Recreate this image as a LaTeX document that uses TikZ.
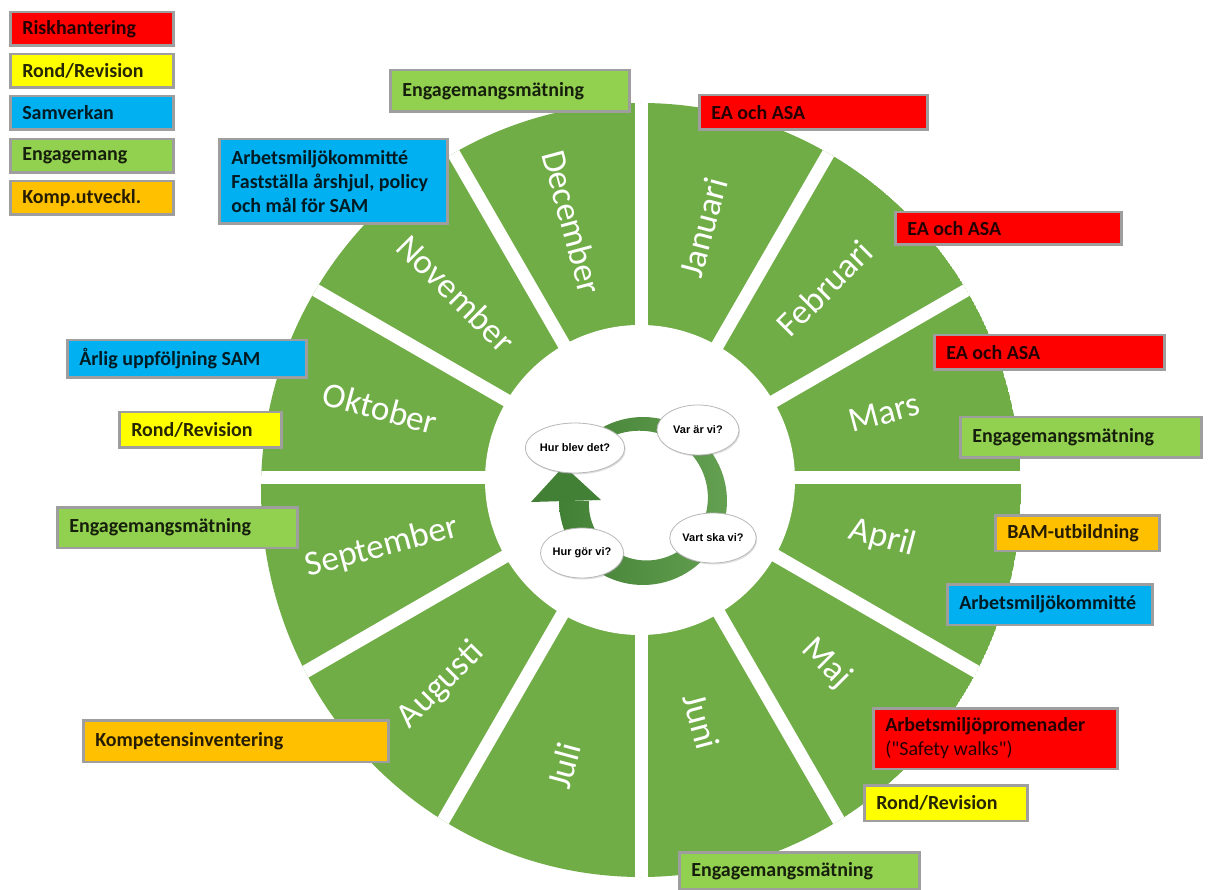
\documentclass[tikz,border=0pt]{standalone}
\usepackage{fontspec}
\setmainfont{Carlito}
\newfontfamily\cyclefont{Liberation Sans}
\usetikzlibrary{calc,shapes.geometric,shadows}

\definecolor{wheelgreen}{RGB}{112,173,71}
\definecolor{ringdark}{RGB}{66,128,54}
\definecolor{ringlight}{RGB}{100,160,80}
\definecolor{tagline}{RGB}{158,158,158}
\definecolor{risk}{RGB}{255,0,0}
\definecolor{rond}{RGB}{255,255,0}
\definecolor{samv}{RGB}{0,176,240}
\definecolor{eng}{RGB}{146,208,80}
\definecolor{komp}{RGB}{255,192,0}

\tikzset{
  tag/.style={draw=tagline, line width=2.5pt, fill=#1, text=#1!15!black, anchor=north west,
    inner xsep=12pt, inner ysep=0pt, align=flush left, font=\bfseries\fontsize{20}{24}\selectfont},
  month/.style={text=white, inner sep=0pt, font=\fontsize{35}{35}\selectfont},
  question/.style={ellipse, draw=black!28, line width=0.8pt, fill=white, inner sep=0pt,
    minimum width=82pt, minimum height=50pt, font=\cyclefont\bfseries\fontsize{11}{11}\selectfont,
    drop shadow={shadow xshift=1pt, shadow yshift=-1.5pt, opacity=0.25}},
}

\begin{document}
\begin{tikzpicture}[x=1pt,y=1pt]
	\useasboundingbox (0,0) rectangle (1208,-890);
	\fill[white] (0,0) rectangle (1208,-890);
	\coordinate (hub) at (641,-478);
	% wheel
	\begin{scope}
		\clip (641,-490) ellipse [x radius=380, y radius=387];
		\fill[wheelgreen] (641,-490) ellipse [x radius=380, y radius=387];
		\foreach \a in {0,30,...,150}
			\draw[white, line width=13pt] ($(hub)+(\a:420)$) -- ($(hub)+(\a+180:420)$);
	\end{scope}
	\fill[white] (640,-480) circle (155);
	\foreach \m/\a/\r/\t in {Januari/76/258/75, Februari/46/264/45, Mars/15/252/15, April/-14/249/-15,
		Maj/-45/262/-45, Juni/-76/251/-75, Juli/255/298/75, Augusti/226/288/45,
		September/195/268/15, Oktober/165/270/-15, November/135/261/-45, December/105/265/-75}
		\node[month, rotate=\t] (\m) at ($(hub)+(\a:\r)$) {\m};
	% cycle in the middle
	\shade[left color=ringdark, right color=ringlight]
		plot[domain=120:-180, samples=80] ({643+84*cos(\x)}, {-501+84*sin(\x)})
		-- plot[domain=-180:120, samples=80] ({643+(54+18*(\x+180)/300)*cos(\x)}, {-501+(54+18*(\x+180)/300)*sin(\x)}) -- cycle;
	\fill[ringdark] (531,-502) -- (601,-500) -- (564,-466) -- cycle;
	\node[question] (q-blev) at (575,-448) {Hur blev det?};
	\node[question] (q-var) at (698,-430) {Var är vi?};
	\node[question] (q-vart) at (713,-538) {Vart ska vi?};
	\node[question] (q-gor) at (582,-553) {Hur gör vi?};
	% legend
	\node[tag=risk, text width=139pt, minimum height=33.5pt] (leg-risk) at (9,-11) {Riskhantering};
	\node[tag=rond, text width=139pt, minimum height=33.5pt] (leg-rond) at (9,-53) {Rond/Revision};
	\node[tag=samv, text width=139pt, minimum height=33.5pt] (leg-samv) at (9,-95) {Samverkan};
	\node[tag=eng, text width=139pt, minimum height=33.5pt] (leg-eng) at (9,-138) {Engagemang};
	\node[tag=komp, text width=139pt, minimum height=33.5pt] (leg-komp) at (9,-180) {Komp.utveckl.};
	% activities
	\node[tag=eng, text width=215pt, minimum height=41.5pt] (dec-eng) at (389,-69) {Engagemangsmätning};
	\node[tag=risk, text width=204pt, minimum height=34.5pt] (jan-ea) at (698,-94) {EA och ASA};
	\node[tag=risk, text width=202pt, minimum height=32.5pt] (feb-ea) at (894,-211) {EA och ASA};
	\node[tag=risk, text width=206pt, minimum height=34.5pt] (mar-ea) at (933,-334) {EA och ASA};
	\node[tag=eng, text width=217pt, minimum height=40.5pt] (mar-eng) at (959,-416) {Engagemangsmätning};
	\node[tag=komp, text width=140pt, minimum height=35.5pt] (apr-bam) at (994,-514) {BAM-utbildning};
	\node[tag=samv, text width=181pt, minimum height=40.5pt] (apr-amk) at (946,-583) {Arbetsmiljökommitté};
	\node[tag=risk, text width=220pt, minimum height=60.5pt] (maj-walk) at (872,-707)
		{Arbetsmiljöpromenader\\{\mdseries (\textquotedbl Safety walks\textquotedbl)}};
	\node[tag=rond, text width=139pt, minimum height=35.5pt] (maj-rond) at (863,-784) {Rond/Revision};
	\node[tag=eng, text width=216pt, minimum height=37pt] (jun-eng) at (678,-851) {Engagemangsmätning};
	\node[tag=komp, text width=281pt, minimum height=41.5pt] (aug-komp) at (82,-719) {Kompetensinventering};
	\node[tag=eng, text width=216pt, minimum height=40.5pt] (sep-eng) at (56,-506) {Engagemangsmätning};
	\node[tag=rond, text width=138pt, minimum height=35.5pt] (okt-rond) at (118,-411) {Rond/Revision};
	\node[tag=samv, text width=215pt, minimum height=37.5pt] (okt-arlig) at (66,-339) {Årlig uppföljning SAM};
	\node[tag=samv, text width=204pt, minimum height=84.5pt] (nov-amk) at (218,-138)
		{Arbetsmiljökommitté\\Fastställa årshjul, policy\\och mål för SAM};
\end{tikzpicture}
\end{document}
